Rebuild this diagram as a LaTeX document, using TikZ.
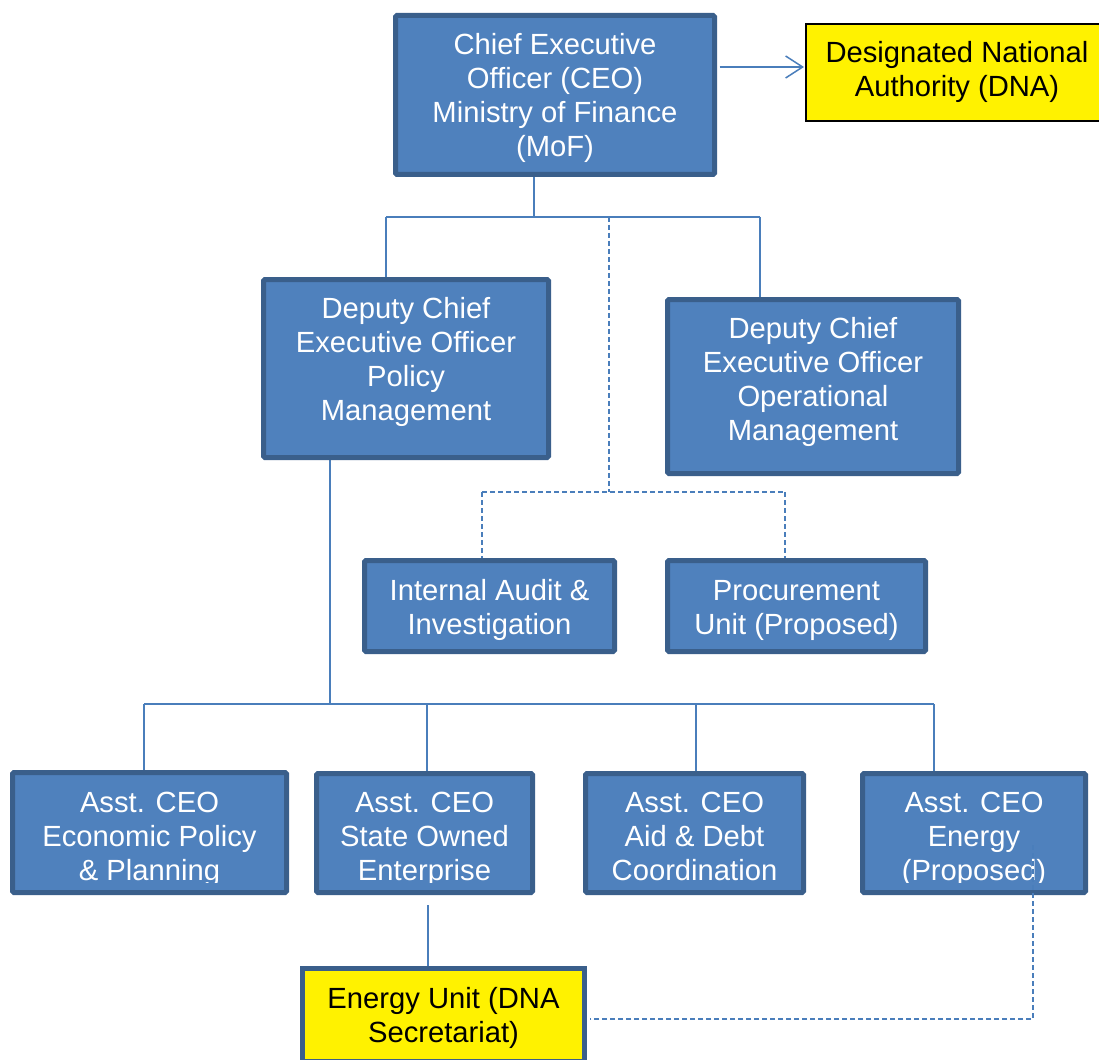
\documentclass[tikz,border=0pt]{standalone}
\usepackage{fontspec}
\setmainfont{Liberation Sans}
\usetikzlibrary{arrows.meta,backgrounds}
\definecolor{boxblue}{HTML}{4F81BD}
\definecolor{boxedge}{HTML}{3A5F8B}
\definecolor{linkblue}{HTML}{4A7EBB}
\newcommand\orgfont{\fontsize{29.2}{34}\selectfont}
\begin{document}
\begin{tikzpicture}[x=1pt,y=-1pt,
  bluebox/.style={draw=boxedge, line width=5pt, fill=boxblue, rounded corners=1.5pt, inner sep=0pt},
  yellowbox/.style={draw=black, line width=2pt, fill=yellow, inner sep=0pt},
  unitbox/.style={draw=boxedge, line width=5pt, fill=yellow, inner sep=0pt},
  wtext/.style={text=white, font=\orgfont, align=center, inner sep=0pt},
  btext/.style={text=black, font=\orgfont, align=center, inner sep=0pt},
  link/.style={draw=linkblue, line width=1.5pt},
  dlink/.style={draw=linkblue, line width=1.5pt, dash pattern=on 5pt off 3pt}]
\useasboundingbox (0,0) rectangle (1099,1059);
\begin{scope}[on background layer]
\fill[white] (0,0) rectangle (1099,1059);
\end{scope}

% boxes
\node[bluebox, minimum width=319pt, minimum height=159pt] (ceo) at (555,95) {};
\node[wtext] (ceot) at (555,98) {Chief Executive\\Officer (CEO)\\Ministry of Finance\\(MoF)};
\node[yellowbox, minimum width=302pt, minimum height=97pt] (dna) at (957,72.5) {};
\node[btext] (dnat) at (957,72) {Designated National\\Authority (DNA)};

\node[bluebox, minimum width=285pt, minimum height=178pt] (dpol) at (406,368.5) {};
\node[wtext] (dpolt) at (406,362) {Deputy Chief\\Executive Officer\\Policy\\Management};
\node[bluebox, minimum width=291pt, minimum height=174pt] (dops) at (813,386.5) {};
\node[wtext] (dopst) at (813,382) {Deputy Chief\\Executive Officer\\Operational\\Management};

\node[bluebox, minimum width=250pt, minimum height=91pt] (audit) at (489.5,606) {};
\node[wtext] (auditt) at (489.5,610) {Internal Audit \&\\Investigation};
\node[bluebox, minimum width=258pt, minimum height=91pt] (proc) at (796.5,606) {};
\node[wtext] (proct) at (796.5,610) {Procurement\\Unit (Proposed)};

\node[bluebox, minimum width=274pt, minimum height=120pt] (aecon) at (149.5,832.5) {};
\node[bluebox, minimum width=216pt, minimum height=119pt] (asoe) at (424.5,833) {};
\node[bluebox, minimum width=218pt, minimum height=119pt] (aaid) at (694.5,833) {};
\node[bluebox, minimum width=223pt, minimum height=119pt] (aen) at (974,833) {};
\begin{scope}
\clip (0,776) rectangle (1099,882);
\node[wtext] (aecont) at (149.5,839) {Asst. CEO\\Economic Policy\\\& Planning};
\node[wtext] (asoet) at (424.5,839) {Asst. CEO\\State Owned\\Enterprise};
\node[wtext] (aaidt) at (694.5,836.5) {Asst. CEO\\Aid \& Debt\\Coordination};
\node[wtext] (aent) at (974,839) {Asst. CEO\\Energy\\(Proposed)};
\end{scope}

\node[unitbox, minimum width=282pt, minimum height=93pt] (eunit) at (443.5,1015) {};
\node[btext] (eunitt) at (443.5,1018) {Energy Unit (DNA\\Secretariat)};

% connector coordinates
\coordinate (a1) at (0,67);
\coordinate (b1C) at (534,217);
\coordinate (b1L) at (386,217);
\coordinate (b1R) at (760,217);
\coordinate (b2C) at (609,217);
\coordinate (b2M) at (609,492);
\coordinate (b2L) at (482,492);
\coordinate (b2R) at (785,492);
\coordinate (b3C) at (330,704);
\coordinate (b3L) at (144,704);
\coordinate (b3a) at (427,704);
\coordinate (b3b) at (696,704);
\coordinate (b3R) at (934,704);
\coordinate (s1) at (428,905);
\coordinate (e1) at (1033,845);
\coordinate (e2) at (1033,1019);

\begin{scope}[on background layer]
\draw[link] (ceo.south -| b1C) -- (b1C);
\draw[link] (b1L) -- (b1R);
\draw[link] (b1L) -- (b1L |- dpol.north);
\draw[link] (b1R) -- (b1R |- dops.north);
\draw[dlink] (b2C) -- (b2M);
\draw[dlink] (b2L) -- (b2R);
\draw[dlink] (b2L) -- (b2L |- audit.north);
\draw[dlink] (b2R) -- (b2R |- proc.north);
\draw[link] (dpol.south -| b3C) -- (b3C);
\draw[link] (b3L) -- (b3R);
\draw[link] (b3L) -- (b3L |- aecon.north);
\draw[link] (b3a) -- (b3a |- asoe.north);
\draw[link] (b3b) -- (b3b |- aaid.north);
\draw[link] (b3R) -- (b3R |- aen.north);
\draw[link] (s1) -- (s1 |- eunit.north);
\end{scope}
\draw[link, -{Straight Barb[length=17pt,width=22pt,line width=1.5pt]}] ([xshift=2.5pt]ceo.east |- a1) -- ([xshift=-1pt]dna.west |- a1);
\draw[dlink] (e1) -- (e2) -- ([xshift=2.5pt]e2 -| eunit.east);
\end{tikzpicture}
\end{document}
